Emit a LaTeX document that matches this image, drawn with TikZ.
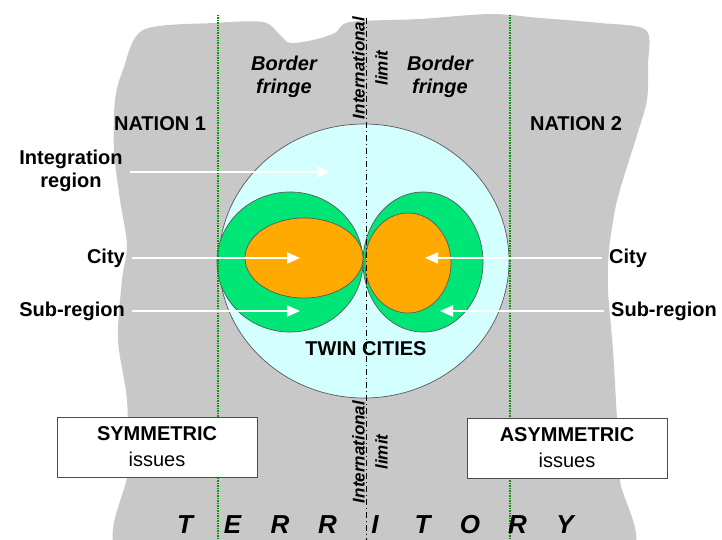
\documentclass[tikz,border=0pt]{standalone}
\usepackage{fontspec}
\setmainfont{Liberation Sans}
\usepackage{xcolor}
\usetikzlibrary{arrows.meta, positioning}
\definecolor{landgray}{RGB}{200,200,200}
\definecolor{regioncyan}{RGB}{212,255,255}
\definecolor{subgreen}{RGB}{0,230,118}
\definecolor{cityorange}{RGB}{255,170,0}
\definecolor{fringegreen}{RGB}{0,150,0}

\begin{document}
\begin{tikzpicture}[x=1pt, y=-1pt, >={Triangle[length=13pt,width=11pt]}]
  \tikzstyle{tag} = [font=\fontsize{20}{23}\selectfont\bfseries, align=center, inner sep=3pt]
  \tikzstyle{fringe} = [tag, font=\fontsize{20}{23}\selectfont\bfseries\itshape]
  \tikzstyle{limit} = [rotate=90, align=center, inner sep=0pt, font=\fontsize{17}{23}\selectfont\bfseries\itshape]
  \tikzstyle{issues} = [draw=black!70, fill=white, minimum width=200pt, minimum height=60pt, align=center, font=\fontsize{20}{26}\selectfont]
  \tikzstyle{letter} = [font=\fontsize{26}{28}\selectfont\bfseries\itshape]
  \tikzstyle{pointer} = [->, white, line width=2pt, shorten <=4pt]
  \tikzstyle{border} = [fringegreen, densely dotted, line width=1.5pt]
  \tikzstyle{outline} = [draw=black!65, line width=0.7pt]

  \useasboundingbox (0,0) rectangle (722,540);

  \fill[landgray] plot[smooth cycle] coordinates {(143,30) (213,23) (263,22) (280,35) (290,43) (313,40) (335,33) (350,22) (420,19) (490,14) (540,18) (600,23) (646,30) (648,65) (647,100) (638,132) (626,170) (616,205) (609,250) (608,290) (613,350) (617,420) (620,480) (622,560) (380,565) (128,560) (128,470) (127,400) (118,340) (122,280) (127,245) (120,200) (114,150) (115,100) (123,70)};

  \draw[outline, fill=regioncyan] (364,261) ellipse [x radius=145pt, y radius=137pt];
  \draw[outline, fill=subgreen] (290,262) ellipse [x radius=73pt, y radius=70pt];
  \draw[outline, fill=subgreen] (423,262) ellipse [x radius=60pt, y radius=70pt];
  \draw[outline, fill=cityorange] (304,258) ellipse [x radius=59pt, y radius=40pt];
  \draw[outline, fill=cityorange] (408,263) ellipse [x radius=43pt, y radius=50pt];

  \draw[border] (218,15) -- (218,540);
  \draw[border] (510,15) -- (510,540);
  \draw[dash pattern=on 6pt off 3pt on 1pt off 3pt, line width=0.8pt] (366,18) -- (366,540);

  \node[limit] (limtop) at (370,68) {International\\limit};
  \node[limit] (limbot) at (370,452) {International\\limit};

  \node[tag] (nation1) at (160,124) {NATION 1};
  \node[tag] (nation2) at (576,124) {NATION 2};
  \node[fringe] (fringe1) at (284,77) {Border\\fringe};
  \node[fringe] (fringe2) at (440,77) {Border\\fringe};
  \node[tag] (integ) at (71,171) {Integration\\region};
  \node[tag, anchor=east] (city1) at (128,258) {City};
  \node[tag, anchor=east] (sub1) at (128,311) {Sub-region};
  \node[tag, anchor=west] (city2) at (606,258) {City};
  \node[tag, anchor=west] (sub2) at (608,311) {Sub-region};
  \node[tag] (twin) at (366,349) {TWIN CITIES};

  \coordinate (integT) at (330,172);
  \coordinate (city1T) at (300,258);
  \coordinate (sub1T) at (300,311);
  \coordinate (city2T) at (425,258);
  \coordinate (sub2T) at (440,311);

  \draw[pointer] (integ.east |- integT) -- (integT);
  \draw[pointer] (city1.east) -- (city1T);
  \draw[pointer] (sub1.east) -- (sub1T);
  \draw[pointer] (city2.west) -- (city2T);
  \draw[pointer] (sub2.west) -- (sub2T);

  \node[issues] (sym) at (157,447) {\textbf{SYMMETRIC}\\issues};
  \node[issues] (asym) at (567,448) {\textbf{ASYMMETRIC}\\issues};

  \foreach \ch [count=\i] in {T,E,R,R,I,T,O,R,Y}
    \node[letter] (terr\i) at (137.5+47.5*\i,525) {\ch};
\end{tikzpicture}
\end{document}
